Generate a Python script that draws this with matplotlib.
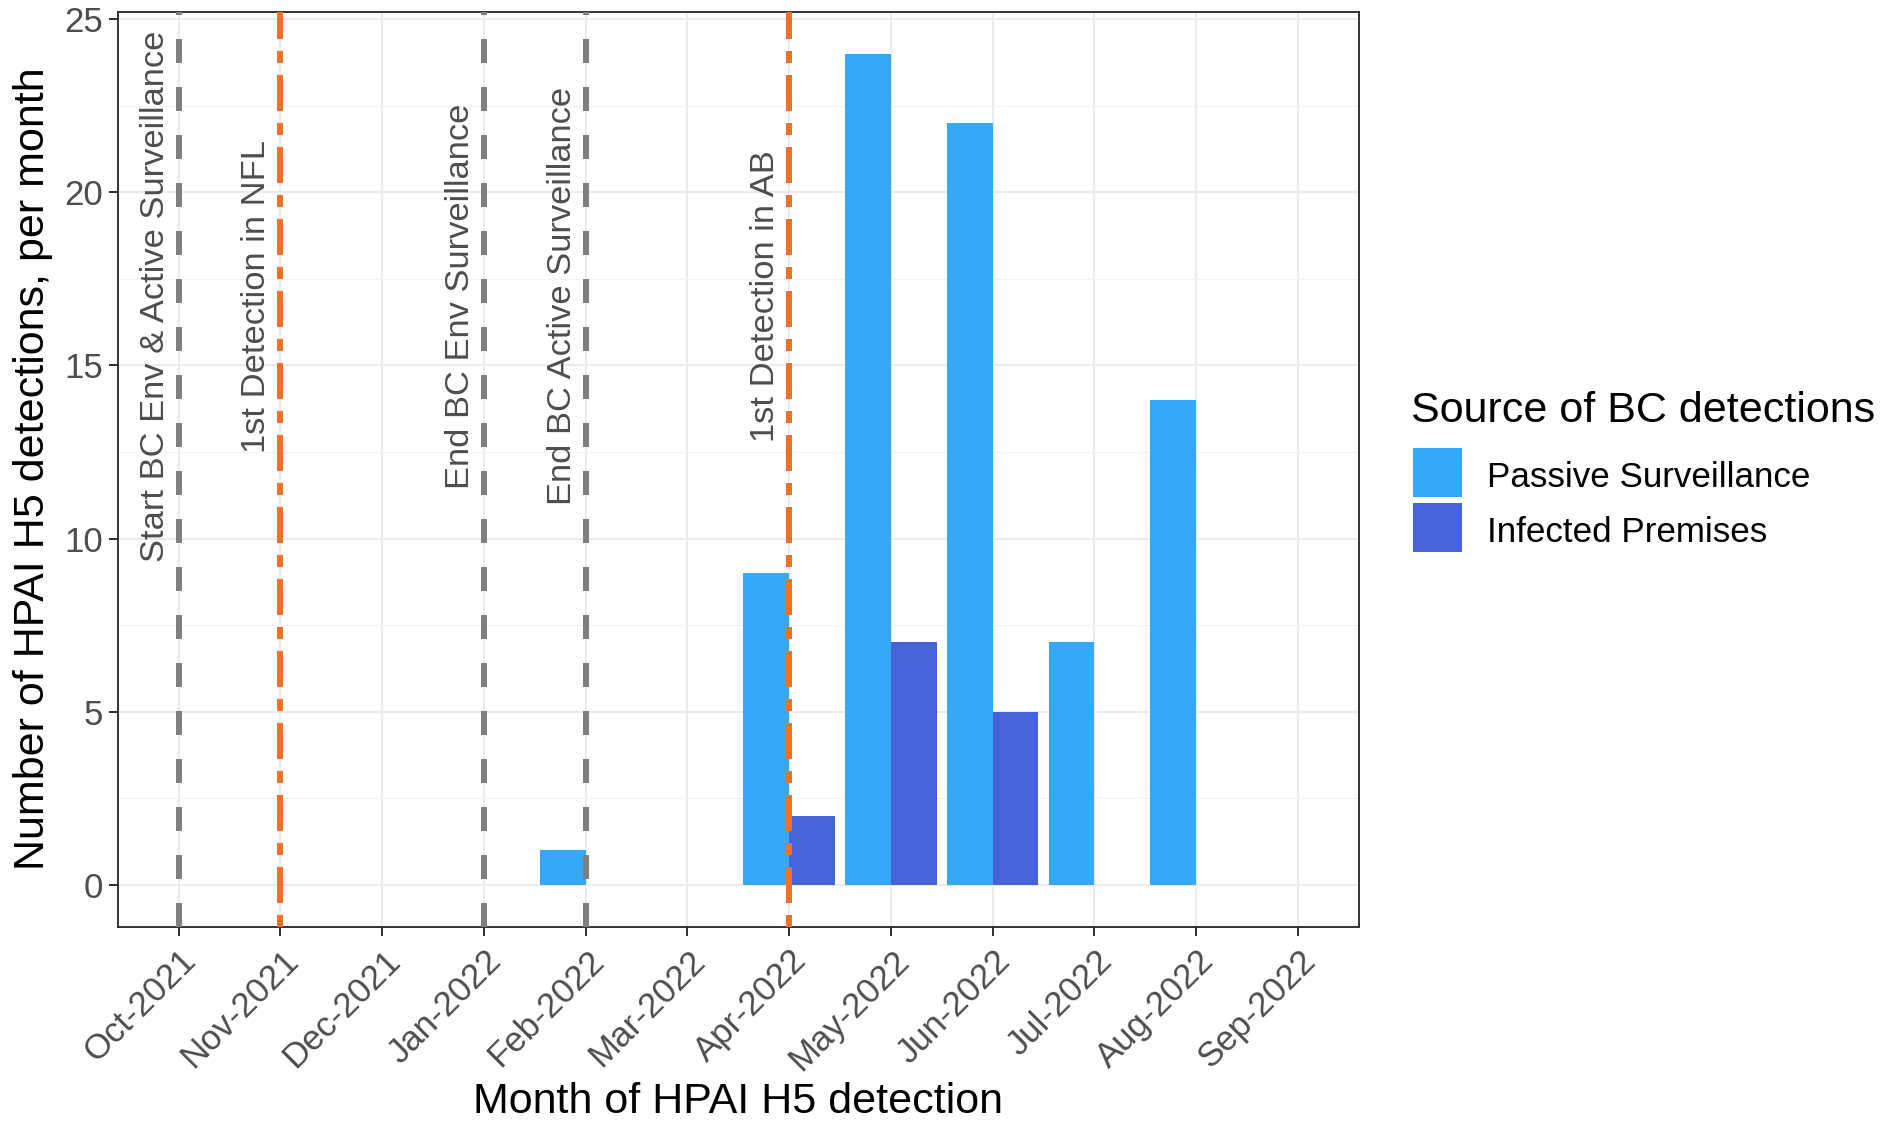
import matplotlib
matplotlib.use('Agg')
import matplotlib.pyplot as plt
import matplotlib.transforms as mtransforms
from matplotlib.patches import Rectangle
import numpy as np

plt.rcParams['font.family'] = ['Liberation Sans', 'DejaVu Sans']

# =============================================================================
# Data
# =============================================================================
months = ['Oct-2021', 'Nov-2021', 'Dec-2021', 'Jan-2022', 'Feb-2022', 'Mar-2022',
          'Apr-2022', 'May-2022', 'Jun-2022', 'Jul-2022', 'Aug-2022', 'Sep-2022']
passive = [0, 0, 0, 0, 1, 0, 9, 24, 22, 7, 14, 0]
infected = [0, 0, 0, 0, 0, 0, 2, 7, 5, 0, 0, 0]
series_names = ['Passive Surveillance', 'Infected Premises']
series_colors = ['#37A8F8', '#4563D7']

event_labels = ['Start BC Env & Active Surveillance', '1st Detection in NFL',
                'End BC Env Surveillance', 'End BC Active Surveillance',
                '1st Detection in AB']
event_months = ['Oct-2021', 'Nov-2021', 'Jan-2022', 'Feb-2022', 'Apr-2022']
event_kind = ['bc', 'other', 'bc', 'bc', 'other']

legend_title = 'Source of BC detections'
x_title = 'Month of HPAI H5 detection'
y_title = 'Number of HPAI H5 detections, per month'

# =============================================================================
W, H = 1903, 1121
fig = plt.figure(figsize=(W / 100, H / 100), dpi=100)
ax = fig.add_axes([117.5 / W, 1 - 926.5 / H, (1359 - 117.5) / W, (926.5 - 12) / H])

x = np.arange(len(months))
bw = 0.45
ax.bar(x - bw / 2, passive, width=bw, color=series_colors[0], linewidth=0, zorder=2)
ax.bar(x + bw / 2, infected, width=bw, color=series_colors[1], linewidth=0, zorder=2)

# vertical event lines
line_px = 6 * 0.72
for lab, m, kind in zip(event_labels, event_months, event_kind):
    xi = months.index(m)
    if kind == 'bc':
        ax.axvline(xi, 0, 1, color='#7F7F7F', lw=line_px, dashes=(4, 4), zorder=3)
    else:
        ax.axvline(xi, 0, 1, color='#F36F21', lw=line_px, dashes=(2, 2, 6, 2), zorder=3)
    ax.text(xi - 0.23, 17.0, lab, rotation=90, ha='center', va='center',
            fontsize=24.8, color='#4D4D4D', zorder=4)

ax.set_xlim(-0.6, len(months) - 1 + 0.6)
ax.set_ylim(-1.2, 25.2)

# grid
ax.set_yticks([0, 5, 10, 15, 20, 25])
ax.set_yticks([2.5, 7.5, 12.5, 17.5, 22.5], minor=True)
ax.set_xticks(x)
ax.set_xticklabels(months)
ax.grid(True, which='major', color='#EBEBEB', lw=1.5, zorder=0)
ax.grid(True, which='minor', axis='y', color='#F2F2F2', lw=0.8, zorder=0)
ax.set_axisbelow(True)

for s in ax.spines.values():
    s.set_color('#333333')
    s.set_linewidth(1.4)

ax.tick_params(axis='both', which='major', length=6.5, width=1.44, color='#333333',
               labelsize=25, labelcolor='#4D4D4D')
ax.tick_params(axis='y', which='major', pad=4)
ax.tick_params(axis='y', which='minor', length=0)
ax.tick_params(axis='x', which='major', pad=6)

offset = mtransforms.ScaledTranslation(1 / 100, 0, fig.dpi_scale_trans)
for t in ax.get_xticklabels():
    t.set_rotation(45)
    t.set_ha('right')
    t.set_va('top')
    t.set_rotation_mode('anchor')
    t.set_transform(t.get_transform() + offset)

# axis titles
fig.text(33 / W, 1 - 469 / H, y_title, rotation=90, ha='center', va='center', fontsize=31)
fig.text(738 / W, 1 - 1102 / H, x_title, ha='center', va='center', fontsize=31)

# legend (drawn by hand, ggplot style)
fig.text(1411 / W, 1 - 411 / H, legend_title, ha='left', va='center', fontsize=31)
key_top = 448
for i, (name, col) in enumerate(zip(series_names, series_colors)):
    y0 = key_top + i * 55
    fig.patches.append(Rectangle((1413 / W, 1 - (y0 + 49) / H), 49 / W, 49 / H,
                                 transform=fig.transFigure, facecolor=col,
                                 edgecolor='none'))
    fig.text(1487 / W, 1 - (y0 + 29) / H, name, ha='left', va='center', fontsize=25.2)

fig.savefig('out.png', dpi=100)
